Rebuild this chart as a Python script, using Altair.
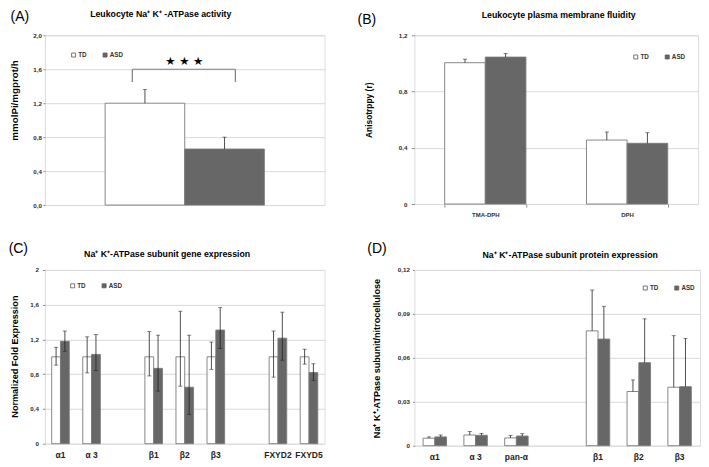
import altair as alt
import pandas as pd

SX, SY = 0.983, 0.975
FONT = "Liberation Sans"
GROUPS = ["TD", "ASD"]
FILLS = ["#ffffff", "#676767"]

# ---------------- data ----------------
# (A) Leukocyte Na+ K+ -ATPase activity
a_cats = ["activity"]
a_td = [1.20]
a_td_hi = [1.36]
a_asd = [0.66]
a_asd_hi = [0.80]
a_bracket = [1.60, 1.45]
a_ticks = [0, 0.4, 0.8, 1.2, 1.6, 2.0]

# (B) Leukocyte plasma membrane fluidity
b_cats = ["TMA-DPH", "DPH"]
b_td = [1.005, 0.455]
b_td_hi = [1.030, 0.512]
b_asd = [1.045, 0.432]
b_asd_hi = [1.070, 0.507]
b_ticks = [0, 0.4, 0.8, 1.2]

# (C) subunit gene expression
c_domain = ["α1", "α 3", " ", "β1", "β2", "β3", "  ", "FXYD2", "FXYD5"]
c_cats = ["α1", "α 3", "β1", "β2", "β3", "FXYD2", "FXYD5"]
c_td = [1.0, 1.0, 1.0, 1.0, 1.0, 1.0, 1.0]
c_td_lo = [0.905, 0.815, 0.780, 0.662, 0.856, 0.766, 0.916]
c_td_hi = [1.110, 1.230, 1.290, 1.525, 1.170, 1.297, 1.088]
c_asd = [1.178, 1.028, 0.867, 0.650, 1.308, 1.215, 0.819]
c_asd_lo = [1.065, 0.841, 0.606, 0.336, 1.095, 0.961, 0.729]
c_asd_hi = [1.297, 1.256, 1.249, 1.249, 1.566, 1.514, 0.920]
c_ticks = [0, 0.4, 0.8, 1.2, 1.6, 2.0]

# (D) subunit protein expression
d_domain = ["α1", "α 3", "pan-α", " ", "β1", "β2", "β3"]
d_cats = ["α1", "α 3", "pan-α", "β1", "β2", "β3"]
d_td = [0.0051, 0.0073, 0.0053, 0.0784, 0.0370, 0.0399]
d_td_hi = [0.0060, 0.0097, 0.0071, 0.1063, 0.0449, 0.0751]
d_asd = [0.0060, 0.0071, 0.0066, 0.0728, 0.0567, 0.0403]
d_asd_hi = [0.0073, 0.0084, 0.0082, 0.0952, 0.0866, 0.0733]
d_ticks = [0, 0.03, 0.06, 0.09, 0.12]


def make_df(cats, td, td_lo, td_hi, asd, asd_lo, asd_hi):
    rows = []
    for i, c in enumerate(cats):
        rows.append({"cat": c, "grp": "TD", "val": td[i], "lo": td_lo[i], "hi": td_hi[i]})
        rows.append({"cat": c, "grp": "ASD", "val": asd[i], "lo": asd_lo[i], "hi": asd_hi[i]})
    return pd.DataFrame(rows)


def panel(df, domain, pi, po, xaxis, ymax, yticks, yfmt, ytick_size, ylab_pad,
          width, height, origin, texts, legend_ref, two_sided, extra=None):
    ox, oy = origin

    def rx(v):
        return (v - ox) * SX

    def ry(v):
        return (v - oy) * SY

    yaxis = alt.Axis(values=yticks, title=None, grid=True, gridColor="#d9d9d9",
                     domain=False, tickSize=ytick_size, tickColor="#8c8c8c",
                     labelExpr=f"replace(format(datum.value, '{yfmt}'), '.', ',')",
                     labelFontSize=6.2, labelFontWeight="bold", labelColor="#2a2a2a",
                     labelFont=FONT, labelPadding=ylab_pad)
    yscale = alt.Scale(domain=[0, ymax], nice=False, zero=True)

    def Y(field):
        return alt.Y(f"{field}:Q", scale=yscale, axis=yaxis)

    X = alt.X("cat:N", scale=alt.Scale(domain=domain, paddingInner=pi, paddingOuter=po),
              axis=xaxis, sort=domain)
    XO = alt.XOffset("grp:N", scale=alt.Scale(domain=GROUPS, paddingInner=0, paddingOuter=0))

    base = alt.Chart(df)
    bars = base.mark_bar(stroke="#7a7a7a", strokeWidth=0.9).encode(
        x=X, xOffset=XO, y=Y("val"),
        fill=alt.Fill("grp:N", scale=alt.Scale(domain=GROUPS, range=FILLS),
                      legend=alt.Legend(orient="none", legendX=rx(legend_ref[0]),
                                        legendY=ry(legend_ref[1]) - 3,
                                        direction="horizontal", title=None,
                                        symbolType="square", symbolSize=16,
                                        symbolStrokeColor="#555555", symbolStrokeWidth=0.8,
                                        labelFontSize=6.3, labelFontWeight="bold",
                                        labelColor="#333333", labelFont=FONT,
                                        columnPadding=13.5, labelOffset=1.5, padding=0)),
    )
    lo_field = "lo" if two_sided else "val"
    rules = base.mark_rule(color="#222222", strokeWidth=0.8).encode(
        x=X, xOffset=XO, y=Y(lo_field), y2="hi:Q")
    caps_hi = base.mark_tick(color="#222222", size=4, thickness=0.8).encode(
        x=X, xOffset=XO, y=Y("hi"))
    layers = [bars, rules, caps_hi]
    if two_sided:
        layers.append(base.mark_tick(color="#222222", size=4, thickness=0.8).encode(
            x=X, xOffset=XO, y=Y("lo")))
    for (txt, tx, ty, size, weight, align, angle, font) in texts:
        kw = dict(text=txt, fontSize=size, fontWeight=weight, align=align,
                  baseline="middle", font=font, color="#000000")
        if angle:
            kw["angle"] = angle
        layers.append(alt.Chart(pd.DataFrame({"k": [0]})).mark_text(**kw).encode(
            x=alt.value(rx(tx)), y=alt.value(ry(ty))))
    if extra:
        layers.extend(extra(Y, rx, ry))
    return alt.layer(*layers).properties(width=width, height=height)


# ---------- panel A ----------
df_a = make_df(a_cats, a_td, a_td, a_td_hi, a_asd, a_asd, a_asd_hi)


def a_extra(Y, rx, ry):
    bdf = pd.DataFrame({"top": [a_bracket[0]], "leg": [a_bracket[1]]})
    bc = alt.Chart(bdf)
    sty = dict(color="#7f7f7f", strokeWidth=1.2)
    return [
        bc.mark_rule(**sty).encode(x=alt.value(rx(127)), x2=alt.value(rx(232)), y=Y("top")),
        bc.mark_rule(**sty).encode(x=alt.value(rx(127)), y=Y("top"), y2="leg:Q"),
        bc.mark_rule(**sty).encode(x=alt.value(rx(232)), y=Y("top"), y2="leg:Q"),
    ]


pa = panel(
    df_a, a_cats, 0, 0.378,
    alt.Axis(labels=False, ticks=False, tickSize=0, domain=False, title=None),
    2.0, a_ticks, ".1f", 2, 1.5, 280, 170, (38, 29),
    [("(A)", 3, 10, 14, "normal", "left", 0, FONT),
     ("Leukocyte Na⁺ K⁺ -ATPase activity", 156, 6.7, 8.8, "bold", "center", 0, FONT),
     ("mmolPi/mgprot/h", 7.7, 96, 9.8, "bold", "center", 270, FONT),
     ("★ ★ ★", 180, 56, 11.5, "normal", "center", 0, "DejaVu Sans")],
    (64, 49), False, a_extra)

# ---------- panel B ----------
df_b = make_df(b_cats, b_td, b_td, b_td_hi, b_asd, b_asd, b_asd_hi)
pb = panel(
    df_b, b_cats, 0.427, 0.2135,
    alt.Axis(labelFontSize=6, labelFontWeight="bold", labelColor="#333333", labelFont=FONT,
             ticks=True, tickBand="extent", tickSize=3, tickColor="#8c8c8c",
             domain=False, labelPadding=4.3, title=None, labelAngle=0),
    1.2, b_ticks, ".2~f", 3, 4.5, 284, 169, (416, 28),
    [("(B)", 358, 12.5, 14, "normal", "left", 0, FONT),
     ("Leukocyte plasma membrane fluidity", 563, 6.7, 8.8, "bold", "center", 0, FONT),
     ("Anisotrppy (r)", 370, 105, 8.4, "bold", "center", 270, FONT)],
    (638.3, 50), False)

# ---------- panel C ----------
df_c = make_df(c_cats, c_td, c_td_lo, c_td_hi, c_asd, c_asd_lo, c_asd_hi)
pc = panel(
    df_c, c_domain, 0.434, 0.217,
    alt.Axis(labelFontSize=8.5, labelFontWeight="bold", labelColor="#222222", labelFont=FONT,
             ticks=False, tickSize=0, domain=False, labelPadding=7, title=None, labelAngle=0),
    2.0, c_ticks, ".2~f", 2.5, 4, 280, 174, (40, 270),
    [("(C)", 3, 248, 14, "normal", "left", 0, FONT),
     ("Na⁺ K⁺-ATPase subunit gene expression", 164.5, 253.3, 8.8, "bold", "center", 0, FONT),
     ("Normalized Fold Expression", 10, 359, 9.1, "bold", "center", 270, FONT)],
    (65, 286), True)

# ---------- panel D ----------
df_d = make_df(d_cats, d_td, d_td, d_td_hi, d_asd, d_asd, d_asd_hi)
pd_ = panel(
    df_d, d_domain, 0.425, 0.2125,
    alt.Axis(labelFontSize=8.5, labelFontWeight="bold", labelColor="#222222", labelFont=FONT,
             ticks=False, tickSize=0, domain=False, labelPadding=7, title=None, labelAngle=0),
    0.12, d_ticks, ".2~f", 2, 3, 286, 176, (413, 269),
    [("(D)", 365, 248, 14, "normal", "left", 0, FONT),
     ("Na⁺ K⁺-ATPase subunit protein expression", 571.7, 254, 8.8, "bold", "center", 0, FONT),
     ("Na⁺ K⁺-ATPase subunit/nitrocellulose", 375, 360, 9.1, "bold", "center", 270, FONT)],
    (645, 287.3), False)

chart = alt.concat(
    pa, pb, pc, pd_, columns=2,
    spacing={"row": 65, "column": 90}, bounds="flush", align="none",
).resolve_scale(
    x="independent", y="independent", xOffset="independent", fill="independent"
).resolve_legend(
    fill="independent"
).properties(
    padding=0
).configure_view(
    stroke="#8c8c8c", strokeWidth=1
).configure(
    font=FONT
)

chart.save("out.html", embed_options={"renderer": "svg", "actions": False})
